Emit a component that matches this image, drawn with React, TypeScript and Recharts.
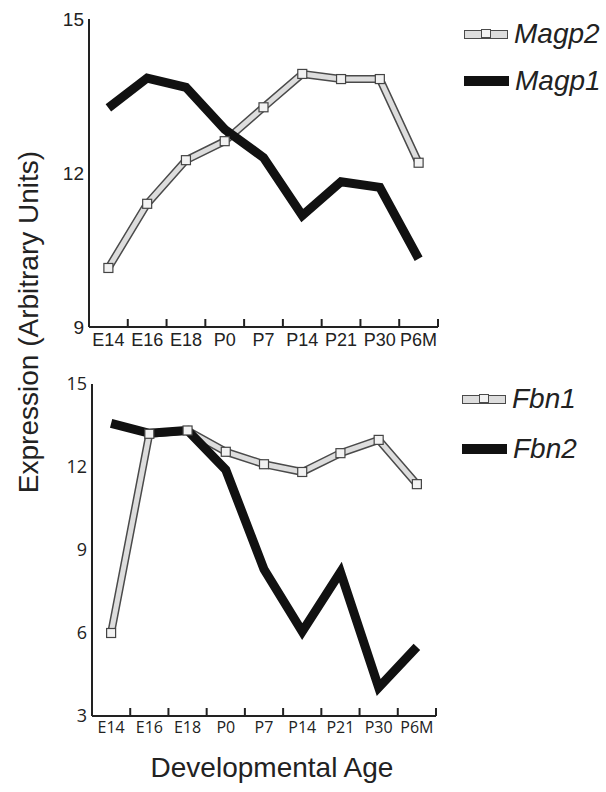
import React from 'react';
import { LineChart, Line, XAxis, YAxis } from 'recharts';

const categories = ['E14', 'E16', 'E18', 'P0', 'P7', 'P14', 'P21', 'P30', 'P6M'];
const magp2 = [10.15, 11.4, 12.25, 12.62, 13.28, 13.93, 13.83, 13.83, 12.2];
const magp1 = [13.27, 13.85, 13.67, 12.85, 12.3, 11.17, 11.83, 11.72, 10.33];
const fbn1 = [6.0, 13.2, 13.32, 12.55, 12.1, 11.82, 12.5, 12.98, 11.38];
const fbn2 = [13.58, 13.22, 13.32, 11.9, 8.3, 6.05, 8.2, 4.03, 5.5];
const topYTicks = [9, 12, 15];
const bottomYTicks = [3, 6, 9, 12, 15];
const boundaryTicks = [0, 1, 2, 3, 4, 5, 6, 7, 8, 9];
const centerTicks = categories.map((_, i) => i + 0.5);

const buildData = (gray: number[], black: number[]) =>
  categories.map((c, i) => ({ x: i + 0.5, name: c, gray: gray[i], black: black[i] }));

const SquareDot = (props: any) => {
  const { cx, cy } = props;
  if (cx == null || cy == null) return null;
  return <rect x={cx - 4.5} y={cy - 4.5} width={9} height={9} fill="#f2f2f2" stroke="#444" strokeWidth={1.2} />;
};

type PanelProps = {
  gray: number[];
  black: number[];
  domain: [number, number];
  yTicks: number[];
  height: number;
  margin: { top: number; right: number; bottom: number; left: number };
  tickFont: string;
  yFontSize: number;
  xFontSize: number;
};

const axisStroke = { stroke: '#222', strokeWidth: 2 };

const Panel = ({ gray, black, domain, yTicks, height, margin, tickFont, yFontSize, xFontSize }: PanelProps) => {
  const data = buildData(gray, black);
  return (
    <LineChart width={606} height={height} data={data} margin={margin}>
      <XAxis
        xAxisId="ticks"
        type="number"
        dataKey="x"
        domain={[0, 9]}
        ticks={boundaryTicks}
        tickFormatter={() => ''}
        mirror
        tickSize={8}
        height={1}
        axisLine={axisStroke}
        tickLine={axisStroke}
      />
      <XAxis
        xAxisId="labels"
        type="number"
        dataKey="x"
        domain={[0, 9]}
        ticks={centerTicks}
        tickFormatter={(v: number) => categories[Math.floor(v)]}
        axisLine={false}
        tickLine={false}
        tickSize={6}
        tickMargin={0}
        height={30}
        tick={{ fill: '#222', fontSize: xFontSize, fontFamily: tickFont }}
        interval={0}
      />
      <YAxis
        yAxisId="ticks"
        type="number"
        domain={domain}
        ticks={yTicks}
        mirror
        width={1}
        tickSize={8}
        tickFormatter={() => ''}
        axisLine={axisStroke}
        tickLine={axisStroke}
        interval={0}
      />
      <YAxis
        yAxisId="labels"
        type="number"
        domain={domain}
        ticks={yTicks}
        width={40}
        tickSize={0}
        tickMargin={5}
        axisLine={false}
        tickLine={false}
        tick={{ fill: '#222', fontSize: yFontSize, fontFamily: tickFont }}
        interval={0}
      />
      <Line
        xAxisId="labels"
        yAxisId="labels"
        dataKey="gray"
        stroke="#4a4a4a"
        strokeWidth={8}
        strokeLinejoin="miter"
        dot={false}
        isAnimationActive={false}
        legendType="none"
      />
      <Line
        xAxisId="labels"
        yAxisId="labels"
        dataKey="gray"
        stroke="#dddddd"
        strokeWidth={5}
        strokeLinejoin="miter"
        dot={<SquareDot />}
        isAnimationActive={false}
      />
      <Line
        xAxisId="labels"
        yAxisId="labels"
        dataKey="black"
        stroke="#111"
        strokeWidth={9}
        strokeLinejoin="miter"
        dot={false}
        isAnimationActive={false}
      />
    </LineChart>
  );
};

const LegendItem = ({ label, gray, left, top }: { label: string; gray: boolean; left: number; top: number }) => (
  <div style={{ position: 'absolute', left, top, height: 30, display: 'flex', alignItems: 'center' }}>
    {gray ? (
      <div style={{ position: 'relative', width: 42, height: 7, background: '#dddddd', border: '1.5px solid #4a4a4a' }}>
        <div style={{ position: 'absolute', left: 16, top: -1.5, width: 8, height: 7, border: '1.2px solid #4a4a4a', background: '#f2f2f2' }} />
      </div>
    ) : (
      <div style={{ width: 45, height: 10, background: '#111' }} />
    )}
    <span style={{ marginLeft: 6, fontFamily: '"Liberation Sans", Arial, sans-serif', fontStyle: 'italic', fontSize: 28, color: '#222' }}>{label}</span>
  </div>
);

export default function App() {
  return (
    <div style={{ position: 'absolute', left: 0, top: 0, width: 606, height: 792, background: '#fff', overflow: 'hidden' }}>
      <div style={{ position: 'absolute', left: 0, top: 0 }}>
        <Panel
          gray={magp2}
          black={magp1}
          domain={[9, 15]}
          yTicks={topYTicks}
          height={360}
          margin={{ top: 19, right: 168, bottom: 3, left: 49 }}
          tickFont='"Liberation Sans", Arial, sans-serif'
          yFontSize={19}
          xFontSize={18}
        />
      </div>
      <div style={{ position: 'absolute', left: 0, top: 360 }}>
        <Panel
          gray={fbn1}
          black={fbn2}
          domain={[3, 15]}
          yTicks={bottomYTicks}
          height={400}
          margin={{ top: 24, right: 170, bottom: 14, left: 52 }}
          tickFont='"Open Sans", sans-serif'
          yFontSize={18}
          xFontSize={16}
        />
      </div>
      <LegendItem label="Magp2" gray left={464} top={19} />
      <LegendItem label="Magp1" gray={false} left={464} top={66} />
      <LegendItem label="Fbn1" gray left={462} top={384} />
      <LegendItem label="Fbn2" gray={false} left={462} top={434} />
      <div
        style={{
          position: 'absolute',
          left: 29 - 200,
          top: 322 - 16,
          width: 400,
          height: 32,
          lineHeight: '32px',
          textAlign: 'center',
          transform: 'rotate(-90deg)',
          fontFamily: '"Liberation Sans", Arial, sans-serif',
          fontSize: 28,
          color: '#222',
          whiteSpace: 'nowrap',
        }}
      >
        Expression (Arbitrary Units)
      </div>
      <div
        style={{
          position: 'absolute',
          left: 272 - 200,
          top: 754,
          width: 400,
          textAlign: 'center',
          fontFamily: '"Liberation Sans", Arial, sans-serif',
          fontSize: 28,
          lineHeight: 1,
          color: '#222',
        }}
      >
        Developmental Age
      </div>
    </div>
  );
}
